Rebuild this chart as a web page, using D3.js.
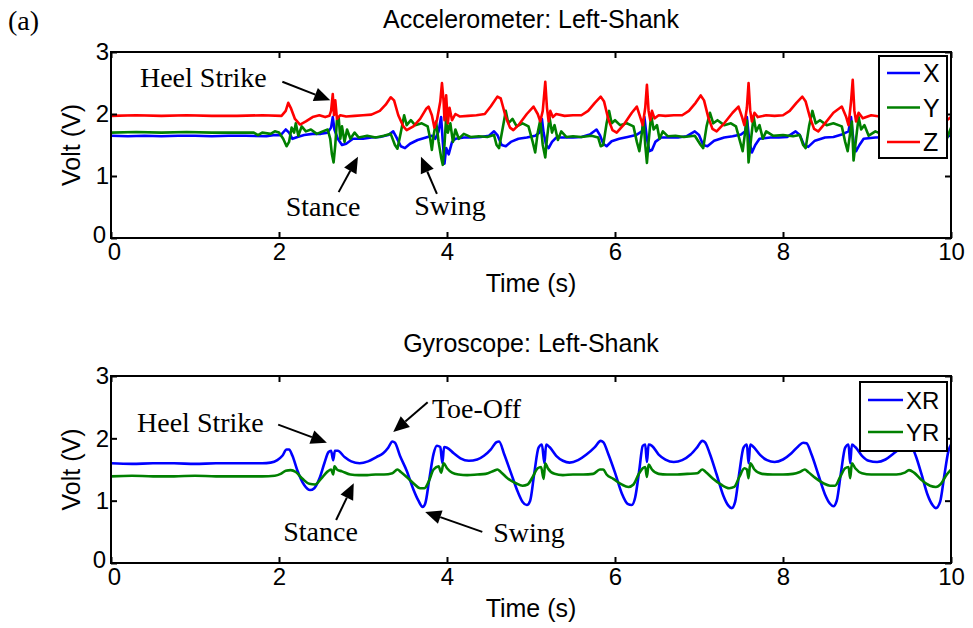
<!DOCTYPE html>
<html><head><meta charset="utf-8">
<script src="https://cdn.jsdelivr.net/npm/d3@7"></script>
<style>body{margin:0;background:#fff} svg{display:block}</style></head>
<body><svg id="c" width="973" height="628"></svg>
<script>
// ---------- data ----------
const xTicks = [0, 2, 4, 6, 8, 10];
const yTicks = [0, 1, 2, 3];
const accNames = ["X", "Y", "Z"];
const gyroNames = ["XR", "YR"];
const accColors = ["#0000ff", "#008000", "#ff0000"];
const gyroColors = ["#0000ff", "#008000"];

// Accelerometer X (blue) [time s, volt]
const accX = [[0,1.65],[0.2,1.64],[0.4,1.65],[0.6,1.64],[0.8,1.65],[1.0,1.65],[1.2,1.64],[1.4,1.65],[1.6,1.65],[1.85,1.64],[1.95,1.66],[2.02,1.66],[2.08,1.75],[2.12,1.7],[2.16,1.6],[2.22,1.63],[2.3,1.66],[2.4,1.68],[2.5,1.68],[2.58,1.7],[2.62,1.78],[2.64,1.95],[2.66,1.75],[2.7,1.6],[2.75,1.5],[2.8,1.52],[2.88,1.6],[3.0,1.6],[3.1,1.62],[3.2,1.63],[3.3,1.66],[3.36,1.72],[3.4,1.62],[3.45,1.48],[3.5,1.45],[3.56,1.52],[3.65,1.58],[3.75,1.62],[3.82,1.65],[3.86,1.6],[3.9,1.72],[3.93,1.95],[3.95,1.55],[3.97,1.2],[3.99,1.45],[4.02,1.35],[4.06,1.55],[4.1,1.6],[4.2,1.62],[4.3,1.62],[4.4,1.63],[4.5,1.65],[4.56,1.72],[4.6,1.66],[4.65,1.5],[4.7,1.48],[4.76,1.55],[4.85,1.6],[4.95,1.62],[5.05,1.65],[5.1,1.7],[5.13,1.92],[5.15,1.7],[5.18,1.5],[5.21,1.45],[5.25,1.55],[5.3,1.62],[5.4,1.62],[5.5,1.62],[5.6,1.63],[5.7,1.67],[5.78,1.75],[5.82,1.66],[5.86,1.52],[5.9,1.48],[5.96,1.56],[6.05,1.6],[6.15,1.63],[6.25,1.66],[6.32,1.72],[6.35,1.95],[6.38,1.6],[6.41,1.4],[6.44,1.42],[6.48,1.55],[6.55,1.62],[6.65,1.62],[6.75,1.62],[6.85,1.64],[6.95,1.72],[7.0,1.66],[7.05,1.5],[7.1,1.48],[7.18,1.57],[7.3,1.62],[7.4,1.64],[7.5,1.67],[7.55,1.72],[7.57,1.95],[7.6,1.55],[7.63,1.38],[7.67,1.5],[7.72,1.6],[7.85,1.62],[7.95,1.62],[8.05,1.63],[8.15,1.72],[8.2,1.66],[8.25,1.5],[8.3,1.47],[8.38,1.57],[8.5,1.62],[8.6,1.63],[8.7,1.67],[8.78,1.72],[8.81,1.95],[8.84,1.55],[8.87,1.4],[8.91,1.5],[8.96,1.6],[9.1,1.62],[9.3,1.63],[9.45,1.6],[9.55,1.5],[9.65,1.55],[9.8,1.62],[9.9,1.6],[10,1.66]];

// Accelerometer Y (green)
const accY = [[0,1.70],[0.3,1.71],[0.6,1.70],[0.9,1.71],[1.2,1.70],[1.5,1.70],[1.7,1.70],[1.75,1.66],[1.8,1.7],[1.9,1.68],[1.95,1.72],[2.0,1.7],[2.05,1.6],[2.09,1.48],[2.12,1.55],[2.15,1.78],[2.18,1.7],[2.2,1.85],[2.23,1.65],[2.27,1.8],[2.32,1.72],[2.38,1.75],[2.45,1.68],[2.52,1.72],[2.58,1.75],[2.61,1.6],[2.63,1.35],[2.65,1.22],[2.67,1.5],[2.69,1.9],[2.71,1.95],[2.73,1.6],[2.75,1.8],[2.78,1.55],[2.81,1.75],[2.85,1.6],[2.9,1.7],[2.95,1.62],[3.05,1.65],[3.15,1.62],[3.25,1.65],[3.33,1.68],[3.38,1.5],[3.41,1.44],[3.45,1.7],[3.49,1.98],[3.52,1.82],[3.57,1.9],[3.62,1.82],[3.7,1.85],[3.77,1.8],[3.8,1.6],[3.82,1.42],[3.84,1.65],[3.87,1.88],[3.9,1.55],[3.93,1.3],[3.95,1.18],[3.97,1.5],[3.99,1.95],[4.01,1.7],[4.04,1.85],[4.07,1.55],[4.1,1.75],[4.14,1.6],[4.2,1.68],[4.28,1.63],[4.38,1.64],[4.48,1.63],[4.56,1.66],[4.59,1.5],[4.62,1.45],[4.66,1.75],[4.7,2.05],[4.73,1.85],[4.78,1.92],[4.83,1.8],[4.9,1.85],[4.97,1.8],[5.02,1.55],[5.05,1.38],[5.08,1.7],[5.11,1.9],[5.14,1.5],[5.17,1.3],[5.19,1.6],[5.22,1.95],[5.25,1.7],[5.28,1.82],[5.32,1.58],[5.36,1.72],[5.42,1.63],[5.5,1.64],[5.6,1.63],[5.72,1.65],[5.8,1.62],[5.83,1.48],[5.86,1.5],[5.9,1.85],[5.93,2.05],[5.96,1.85],[6.0,1.9],[6.06,1.82],[6.14,1.85],[6.22,1.8],[6.26,1.55],[6.29,1.4],[6.32,1.7],[6.34,1.9],[6.36,1.5],[6.38,1.21],[6.4,1.55],[6.43,1.98],[6.46,1.75],[6.5,1.82],[6.53,1.6],[6.57,1.72],[6.63,1.64],[6.72,1.65],[6.82,1.63],[6.95,1.65],[7.02,1.5],[7.05,1.45],[7.09,1.8],[7.13,2.02],[7.17,1.85],[7.22,1.9],[7.3,1.82],[7.38,1.85],[7.44,1.8],[7.49,1.55],[7.52,1.4],[7.55,1.72],[7.57,1.9],[7.59,1.22],[7.62,1.6],[7.65,1.96],[7.68,1.72],[7.72,1.82],[7.76,1.6],[7.8,1.72],[7.88,1.65],[8.0,1.66],[8.12,1.64],[8.2,1.66],[8.24,1.5],[8.27,1.45],[8.31,1.8],[8.35,2.05],[8.39,1.85],[8.44,1.9],[8.52,1.82],[8.6,1.85],[8.7,1.8],[8.74,1.55],[8.77,1.4],[8.8,1.7],[8.82,1.88],[8.84,1.25],[8.87,1.6],[8.9,1.95],[8.93,1.75],[8.97,1.82],[9.02,1.65],[9.1,1.72],[9.2,1.66],[9.3,1.68],[9.42,1.64],[9.48,1.5],[9.52,1.55],[9.58,1.9],[9.63,1.85],[9.72,1.82],[9.82,1.85],[9.9,1.75],[9.95,1.6],[10,1.78]];

// Accelerometer Z (red)
const accZ = [[0,1.97],[0.3,1.98],[0.6,1.97],[0.9,1.98],[1.2,1.97],[1.5,1.97],[1.8,1.98],[2.03,1.97],[2.08,2.05],[2.11,2.18],[2.14,2.1],[2.19,1.92],[2.25,1.83],[2.32,1.88],[2.4,1.95],[2.48,1.98],[2.55,1.95],[2.6,1.97],[2.62,2.05],[2.64,2.32],[2.655,1.98],[2.67,2.22],[2.69,1.92],[2.73,1.98],[2.8,1.96],[2.9,1.97],[3.0,1.98],[3.1,1.99],[3.2,2.05],[3.27,2.15],[3.33,2.27],[3.37,2.22],[3.42,1.98],[3.48,1.8],[3.52,1.74],[3.6,1.8],[3.68,1.92],[3.75,2.08],[3.78,2.12],[3.82,1.98],[3.85,1.78],[3.88,1.9],[3.92,2.2],[3.94,2.5],[3.96,2.2],[3.97,1.9],[3.99,2.3],[4.01,1.85],[4.03,2.1],[4.06,1.9],[4.1,2.0],[4.15,1.96],[4.25,1.97],[4.35,1.98],[4.45,2.0],[4.52,2.12],[4.6,2.28],[4.64,2.25],[4.7,1.95],[4.75,1.78],[4.79,1.74],[4.85,1.82],[4.95,2.0],[5.03,2.12],[5.08,2.0],[5.11,1.88],[5.14,2.05],[5.17,2.52],[5.19,2.1],[5.21,1.88],[5.23,2.05],[5.26,1.95],[5.3,2.0],[5.4,1.97],[5.5,1.98],[5.6,1.98],[5.68,2.05],[5.76,2.18],[5.83,2.28],[5.87,2.2],[5.92,1.92],[5.97,1.74],[6.02,1.7],[6.1,1.82],[6.2,2.02],[6.26,2.12],[6.3,1.95],[6.33,1.82],[6.36,2.1],[6.38,2.47],[6.4,2.05],[6.42,1.9],[6.44,2.05],[6.47,1.93],[6.52,1.98],[6.6,1.97],[6.7,1.98],[6.8,1.98],[6.88,2.05],[6.96,2.18],[7.02,2.3],[7.06,2.22],[7.11,1.95],[7.16,1.76],[7.21,1.72],[7.3,1.85],[7.4,2.02],[7.47,2.12],[7.51,1.96],[7.54,1.82],[7.57,2.1],[7.59,2.5],[7.61,2.05],[7.63,1.88],[7.66,2.02],[7.7,1.95],[7.8,1.98],[7.9,1.97],[8.0,1.98],[8.08,2.05],[8.16,2.18],[8.23,2.28],[8.27,2.2],[8.32,1.95],[8.37,1.76],[8.42,1.72],[8.5,1.85],[8.6,2.02],[8.7,2.12],[8.75,1.96],[8.78,1.82],[8.81,2.2],[8.83,2.55],[8.85,2.05],[8.87,1.88],[8.9,2.02],[8.95,1.93],[9.05,1.98],[9.15,1.96],[9.3,1.97],[9.4,2.1],[9.45,2.25],[9.52,1.95],[9.6,1.75],[9.7,1.8],[9.85,1.92],[9.95,1.9],[10,1.95]];

// Gyroscope XR (blue)
const gyroXR = [[0,1.60],[0.25,1.59],[0.5,1.60],[0.75,1.60],[1.0,1.59],[1.25,1.60],[1.5,1.60],[1.8,1.60],[1.9,1.61],[1.98,1.65],[2.04,1.72],[2.09,1.82],[2.12,1.82],[2.16,1.72],[2.22,1.48],[2.3,1.25],[2.37,1.17],[2.42,1.2],[2.48,1.35],[2.54,1.6],[2.59,1.78],[2.62,1.8],[2.645,1.65],[2.665,1.8],[2.7,1.8],[2.78,1.7],[2.86,1.63],[2.96,1.6],[3.06,1.63],[3.16,1.7],[3.24,1.76],[3.3,1.85],[3.35,1.95],[3.38,1.93],[3.44,1.72],[3.52,1.48],[3.6,1.18],[3.66,1.0],[3.71,0.9],[3.74,0.95],[3.79,1.35],[3.84,1.75],[3.88,1.88],[3.92,1.86],[3.945,1.6],[3.965,1.86],[4.0,1.85],[4.08,1.76],[4.16,1.68],[4.26,1.64],[4.36,1.66],[4.44,1.72],[4.52,1.82],[4.59,1.94],[4.62,1.95],[4.68,1.75],[4.76,1.45],[4.84,1.15],[4.9,0.98],[4.95,0.93],[4.99,1.0],[5.04,1.45],[5.09,1.85],[5.13,1.9],[5.16,1.6],[5.18,1.9],[5.22,1.86],[5.3,1.72],[5.38,1.64],[5.46,1.61],[5.56,1.65],[5.66,1.74],[5.76,1.86],[5.83,1.96],[5.86,1.94],[5.92,1.75],[6.0,1.45],[6.08,1.12],[6.15,0.95],[6.2,0.93],[6.24,1.05],[6.29,1.5],[6.33,1.88],[6.36,1.9],[6.38,1.62],[6.4,1.9],[6.44,1.88],[6.52,1.74],[6.6,1.66],[6.7,1.62],[6.8,1.65],[6.9,1.74],[6.98,1.86],[7.04,1.96],[7.07,1.94],[7.13,1.75],[7.21,1.42],[7.29,1.08],[7.35,0.92],[7.39,0.88],[7.43,0.98],[7.48,1.45],[7.53,1.85],[7.57,1.9],[7.59,1.6],[7.61,1.9],[7.65,1.86],[7.73,1.73],[7.81,1.65],[7.9,1.62],[8.0,1.66],[8.1,1.76],[8.18,1.87],[8.24,1.93],[8.28,1.92],[8.34,1.74],[8.42,1.42],[8.5,1.1],[8.56,0.95],[8.6,0.91],[8.64,1.0],[8.69,1.45],[8.74,1.85],[8.78,1.9],[8.8,1.6],[8.82,1.9],[8.86,1.86],[8.94,1.72],[9.02,1.64],[9.12,1.62],[9.22,1.66],[9.32,1.76],[9.42,1.86],[9.48,1.92],[9.52,1.9],[9.58,1.72],[9.65,1.42],[9.72,1.1],[9.78,0.93],[9.82,0.88],[9.87,0.98],[9.92,1.4],[9.97,1.8],[10,1.9]];

// Gyroscope YR (green)
const gyroYR = [[0,1.39],[0.25,1.40],[0.5,1.39],[0.75,1.39],[1.0,1.40],[1.25,1.39],[1.5,1.39],[1.8,1.39],[1.95,1.40],[2.02,1.43],[2.08,1.48],[2.14,1.49],[2.2,1.46],[2.28,1.35],[2.36,1.27],[2.43,1.26],[2.5,1.35],[2.58,1.47],[2.62,1.5],[2.645,1.42],[2.66,1.55],[2.69,1.5],[2.75,1.47],[2.85,1.42],[2.95,1.41],[3.05,1.41],[3.15,1.42],[3.25,1.42],[3.35,1.44],[3.41,1.5],[3.45,1.46],[3.52,1.38],[3.6,1.28],[3.68,1.2],[3.73,1.2],[3.78,1.3],[3.84,1.5],[3.9,1.55],[3.93,1.45],[3.96,1.6],[4.0,1.52],[4.06,1.45],[4.14,1.42],[4.24,1.41],[4.36,1.42],[4.46,1.43],[4.56,1.48],[4.6,1.5],[4.64,1.46],[4.72,1.36],[4.82,1.28],[4.9,1.24],[4.96,1.26],[5.02,1.38],[5.08,1.52],[5.12,1.54],[5.15,1.35],[5.17,1.6],[5.2,1.52],[5.28,1.43],[5.38,1.41],[5.5,1.42],[5.62,1.42],[5.74,1.43],[5.82,1.5],[5.86,1.5],[5.9,1.42],[5.98,1.35],[6.08,1.26],[6.16,1.22],[6.22,1.26],[6.28,1.42],[6.33,1.52],[6.36,1.54],[6.38,1.38],[6.4,1.58],[6.44,1.5],[6.52,1.43],[6.62,1.42],[6.74,1.42],[6.86,1.43],[6.98,1.44],[7.04,1.5],[7.08,1.46],[7.16,1.36],[7.26,1.26],[7.36,1.2],[7.42,1.22],[7.48,1.38],[7.54,1.52],[7.57,1.5],[7.59,1.36],[7.61,1.6],[7.66,1.5],[7.75,1.43],[7.88,1.42],[8.0,1.42],[8.12,1.43],[8.2,1.46],[8.26,1.5],[8.3,1.46],[8.38,1.37],[8.48,1.28],[8.56,1.24],[8.62,1.24],[8.68,1.38],[8.74,1.52],[8.78,1.54],[8.8,1.36],[8.82,1.6],[8.86,1.52],[8.94,1.44],[9.05,1.42],[9.2,1.42],[9.35,1.42],[9.45,1.45],[9.5,1.49],[9.56,1.45],[9.65,1.33],[9.75,1.24],[9.82,1.22],[9.88,1.27],[9.95,1.42],[10,1.5]];

// annotations in data units: text position and arrow tail -> head
const accNotes = [
  {text:"Heel Strike", t:0.345, v:2.43, from:[2.04,2.52], to:[2.61,2.22]},
  {text:"Stance", t:2.08, v:0.36, from:[2.71,0.74], to:[2.94,1.31]},
  {text:"Swing", t:3.61, v:0.37, from:[3.88,0.71], to:[3.69,1.31]}
];
const gyroNotes = [
  {text:"Heel Strike", t:0.31, v:2.10, from:[1.99,2.22], to:[2.57,1.93]},
  {text:"Toe-Off", t:3.82, v:2.33, from:[3.77,2.58], to:[3.36,2.10]},
  {text:"Stance", t:2.05, v:0.35, from:[2.68,0.69], to:[2.89,1.28]},
  {text:"Swing", t:4.55, v:0.34, from:[4.42,0.50], to:[3.74,0.82]}
];

// ---------- drawing ----------
const svg = d3.select("#c");
const SANS = "'Liberation Sans', Arial, sans-serif";
const SERIF = "'Liberation Serif', 'Times New Roman', serif";

svg.append("text").attr("x", 8).attr("y", 30).attr("font-family", SERIF)
  .attr("font-size", 28).text("(a)");

function panel(cfg) {
  const x = d3.scaleLinear().domain([0, 10]).range([111, 951]);
  const y = d3.scaleLinear().domain([0, 3]).range([cfg.y1, cfg.y0]);
  const g = svg.append("g");
  const clipId = "clip" + cfg.id;
  svg.append("clipPath").attr("id", clipId).append("rect")
    .attr("x", 111).attr("y", cfg.y0).attr("width", 840).attr("height", cfg.y1 - cfg.y0);

  const line = d3.line().x(d => x(d[0])).y(d => y(d[1])).curve(cfg.curve);
  cfg.series.forEach((s, i) => {
    g.append("path").datum(s).attr("d", line).attr("fill", "none")
      .attr("stroke", cfg.colors[i]).attr("stroke-width", 2.6)
      .attr("stroke-linejoin", "round").attr("clip-path", `url(#${clipId})`);
  });

  // box
  g.append("rect").attr("x", 111).attr("y", cfg.y0).attr("width", 840).attr("height", cfg.y1 - cfg.y0)
    .attr("fill", "none").attr("stroke", "#000").attr("stroke-width", 2);

  const styleAxis = sel => {
    sel.select(".domain").remove();
    sel.selectAll(".tick line").attr("stroke", "#000").attr("stroke-width", 2);
    sel.selectAll(".tick text").attr("font-family", SANS).attr("font-size", 24).attr("fill", "#000");
  };
  g.append("g").attr("transform", `translate(0,${cfg.y1})`)
    .call(d3.axisBottom(x).tickValues(xTicks).tickFormat(d3.format("d")).tickSize(-6).tickPadding(5)).call(styleAxis)
    .selectAll(".tick text").filter(d => d === 0).attr("x", 3);
  g.append("g").attr("transform", `translate(0,${cfg.y0})`)
    .call(d3.axisTop(x).tickValues(xTicks).tickFormat("").tickSize(-6)).call(styleAxis);
  g.append("g").attr("transform", `translate(111,0)`)
    .call(d3.axisLeft(y).tickValues(yTicks).tickFormat(d3.format("d")).tickSize(-6).tickPadding(2)).call(styleAxis)
    .selectAll(".tick text").filter(d => d === 0).attr("x", -5).attr("dy", "0.2em");
  g.append("g").attr("transform", `translate(951,0)`)
    .call(d3.axisRight(y).tickValues(yTicks).tickFormat("").tickSize(-6)).call(styleAxis);

  // titles and labels
  g.append("text").attr("x", 531).attr("y", cfg.y0 - 24).attr("text-anchor", "middle")
    .attr("font-family", SANS).attr("font-size", 25).text(cfg.title);
  g.append("text").attr("x", 531).attr("y", cfg.y1 + 54).attr("text-anchor", "middle")
    .attr("font-family", SANS).attr("font-size", 25).text("Time (s)");
  const cy = (cfg.y0 + cfg.y1) / 2;
  g.append("text").attr("transform", `translate(80,${cy}) rotate(-90)`).attr("text-anchor", "middle")
    .attr("font-family", SANS).attr("font-size", 25).text("Volt (V)");

  // annotations
  cfg.notes.forEach(n => {
    g.append("text").attr("x", x(n.t)).attr("y", y(n.v)).attr("font-family", SERIF)
      .attr("font-size", 28).text(n.text);
    const x1 = x(n.from[0]), y1 = y(n.from[1]), x2 = x(n.to[0]), y2 = y(n.to[1]);
    const ang = Math.atan2(y2 - y1, x2 - x1);
    const L = 16, Wd = 7;
    const bx = x2 - L * Math.cos(ang), by = y2 - L * Math.sin(ang);
    g.append("line").attr("x1", x1).attr("y1", y1).attr("x2", bx).attr("y2", by)
      .attr("stroke", "#000").attr("stroke-width", 2);
    const px = -Math.sin(ang) * Wd, py = Math.cos(ang) * Wd;
    g.append("path").attr("d", `M${x2},${y2}L${bx + px},${by + py}L${bx - px},${by - py}Z`).attr("fill", "#000");
  });

  // legend
  const L = cfg.legend;
  const lg = g.append("g");
  lg.append("rect").attr("x", L.x).attr("y", L.y).attr("width", L.w).attr("height", L.h)
    .attr("fill", "#fff").attr("stroke", "#000").attr("stroke-width", 2);
  cfg.names.forEach((nm, i) => {
    const yy = L.y + L.first + i * L.step;
    lg.append("line").attr("x1", L.x + 8).attr("x2", L.x + 8 + L.len).attr("y1", yy).attr("y2", yy)
      .attr("stroke", cfg.colors[i]).attr("stroke-width", 2.6);
    lg.append("text").attr("x", L.x + 11 + L.len).attr("y", yy).attr("dy", "0.36em")
      .attr("font-family", SANS).attr("font-size", L.fs).text(nm);
  });
}

panel({id: 1, y0: 52, y1: 238, title: "Accelerometer: Left-Shank",
  series: [accX, accY, accZ], colors: accColors, names: accNames, curve: d3.curveLinear,
  notes: accNotes, legend: {x: 879, y: 56, w: 68, h: 102, first: 17, step: 34.5, len: 33, fs: 25}});
panel({id: 2, y0: 376, y1: 563, title: "Gyroscope: Left-Shank",
  series: [gyroXR, gyroYR], colors: gyroColors, names: gyroNames, curve: d3.curveMonotoneX,
  notes: gyroNotes, legend: {x: 860, y: 382, w: 87, h: 69, first: 18, step: 32, len: 35, fs: 24}});
</script>
</body></html>
